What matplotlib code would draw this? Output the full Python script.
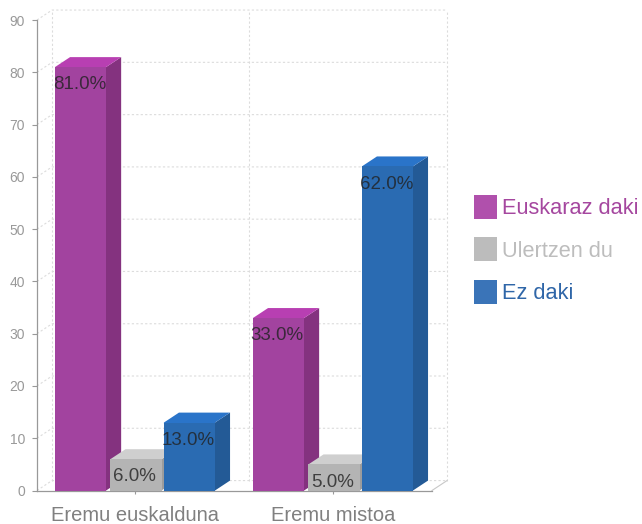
import matplotlib
matplotlib.use('Agg')
import matplotlib.pyplot as plt
from matplotlib.patches import Polygon, Patch

plt.rcParams['font.family'] = ['Liberation Sans', 'DejaVu Sans']

categories = ['Eremu euskalduna', 'Eremu mistoa']
series_names = ['Euskaraz daki', 'Ulertzen du', 'Ez daki']
euskaraz = [81.0, 33.0]
ulertzen = [6.0, 5.0]
ez_daki = [13.0, 62.0]
yticks = [0, 10, 20, 30, 40, 50, 60, 70, 80, 90]

front = ['#a2439f', '#b4b4b4', '#2a6bb2']
side = ['#84327f', '#9c9c9c', '#235a96']
top = ['#b83fb2', '#cfcfcf', '#2a74c9']
legend_col = ['#b050ac', '#bcbcbc', '#3a74b8']
text_col = ['#a5479f', '#bdbdbd', '#2f66a8']

# depth of the fake 3d, in data units
dx = 0.076
dy = 1.9
width = 0.258
offset = [-0.275, 0.005, 0.275]
grid = '#dcdcdc'

fig = plt.figure(figsize=(6.42, 5.24), dpi=100)
ax = fig.add_axes([37 / 642, 1 - 490.5 / 524, 395 / 642, 470.5 / 524])
ax.set_xlim(-0.495, 1.5)
ax.set_ylim(0, 90)

# back wall and floor
for y in yticks:
    ax.plot([-0.495, -0.495 + dx, 1.5 + dx], [y, y + dy, y + dy], color=grid, lw=0.8,
            ls=(0, (2, 2)), clip_on=False, zorder=1)
for x in [-0.495 + dx, 0.5 + dx, 1.5 + dx]:
    ax.plot([x, x], [dy, 90 + dy], color=grid, lw=0.8, ls=(0, (2, 2)), clip_on=False, zorder=1)
ax.plot([1.5, 1.5 + dx], [0, dy], color='#c8c8c8', lw=0.8, clip_on=False, zorder=1)

values = [euskaraz, ulertzen, ez_daki]
z = 3
for c in range(len(categories)):
    for s in range(3):
        v = values[s][c]
        x0 = c + offset[s] - width / 2
        x1 = x0 + width
        ax.bar(x0 + width / 2, v, width, color=front[s], zorder=z + 0.2)
        # side starts a bit under the front so no seam shows
        ax.add_patch(Polygon([(x1 - 0.004, 0), (x1, 0), (x1 + dx, dy), (x1 + dx, v + dy), (x1, v), (x1 - 0.004, v)],
                             facecolor=side[s], edgecolor='none', zorder=z, clip_on=False))
        ax.add_patch(Polygon([(x0, v - 0.2), (x0, v), (x0 + dx, v + dy), (x1 + dx, v + dy), (x1, v), (x1, v - 0.2)],
                             facecolor=top[s], edgecolor='none', zorder=z, clip_on=False))
        z += 1

# labels on top of everything
for c in range(len(categories)):
    for s in range(3):
        v = values[s][c]
        ax.annotate('%.1f%%' % v, (c + offset[s] - 0.006, v), xytext=(0, -12.8),
                    textcoords='offset points', ha='center', va='center',
                    fontsize=13.5, color='#222222', alpha=0.8, zorder=50)

ax.set_xticks([0, 1])
ax.set_xticklabels(categories, fontsize=14.5, color='#808080')
ax.set_yticks(yticks)
ax.tick_params(axis='y', length=3.6, width=0.8, color='#999999', labelcolor='#999999',
               labelsize=10, pad=5)
ax.tick_params(axis='x', length=2.5, width=0.8, color='#999999', pad=9)
for name in ['top', 'right']:
    ax.spines[name].set_visible(False)
for name in ['left', 'bottom']:
    ax.spines[name].set_color('#999999')
    ax.spines[name].set_linewidth(0.9)
ax.spines['left'].set_zorder(2)
ax.spines['bottom'].set_zorder(2)

handles = [Patch(facecolor=c, edgecolor='none') for c in legend_col]
leg = fig.legend(handles, series_names, loc='center left', bbox_to_anchor=(474 / 642, 1 - 249.5 / 524),
                 frameon=False, fontsize=15.7, handlelength=1.06, handleheight=1.32,
                 handletextpad=0.22, labelspacing=0.83, borderpad=0, borderaxespad=0)
for t, c in zip(leg.get_texts(), text_col):
    t.set_color(c)

fig.savefig('out.png', dpi=100)
